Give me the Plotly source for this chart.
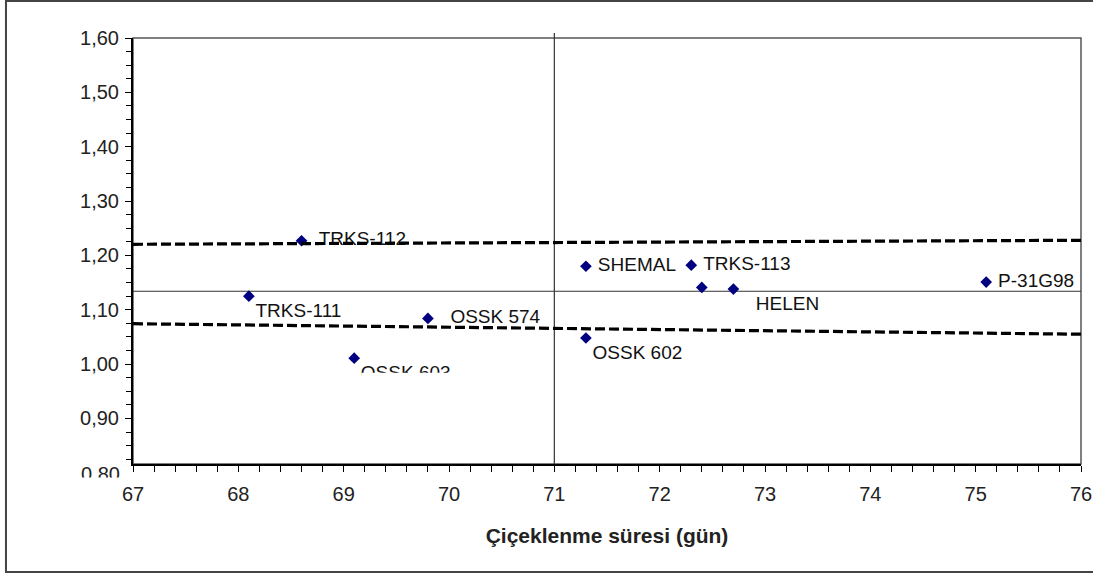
import plotly.graph_objects as go

# ---- data ----
cultivars = ["TRKS-112", "TRKS-111", "OSSK 574", "OSSK 603", "SHEMAL",
             "OSSK 602", "TRKS-113", "", "HELEN", "P-31G98"]
flower_days = [68.6, 68.1, 69.8, 69.1, 71.3, 71.3, 72.3, 72.4, 72.7, 75.1]
ratio_vals = [1.227, 1.125, 1.084, 1.011, 1.180, 1.048, 1.182, 1.141, 1.138, 1.151]
label_pos = ["middle right", "bottom right", "middle right", "bottom right", "middle right",
             "bottom right", "middle right", "middle right", "bottom right", "middle right"]
label_pad = [2, 0, 3, 0, 1, 0, 1, 0, 3, 1]   # non-breaking spaces before each label

trend_x = [67, 76]
upper_trend = [1.2204, 1.2278]
lower_trend = [1.0743, 1.0550]

mean_days = 71.0
mean_ratio = 1.134

x_range = [67, 76]
y_range = [0.8162, 1.60]
y_nominal = [0.80, 1.60]
x_title = "Çiçeklenme süresi (gün)"

FONT = "Liberation Sans, Arial, sans-serif"

label_text = [("\u00a0" * p + c) if c else "" for c, p in zip(cultivars, label_pad)]

fig = go.Figure()

fig.add_trace(go.Scatter(
    x=flower_days, y=ratio_vals, mode="markers+text",
    text=label_text, textposition=label_pos,
    marker=dict(symbol="diamond", size=9, color="#000080"),
    textfont=dict(family=FONT, size=19, color="#111111"),
    cliponaxis=False, showlegend=False, hoverinfo="skip"))

for yy in (upper_trend, lower_trend):
    fig.add_trace(go.Scatter(
        x=trend_x, y=yy, mode="lines",
        line=dict(color="black", width=3.2, dash="10px,4px"),
        showlegend=False, hoverinfo="skip"))

# phantom trace for the secondary (label-only) axis
fig.add_trace(go.Scatter(x=[None], y=[None], yaxis="y2", showlegend=False))

shapes = [
    dict(type="rect", xref="paper", yref="paper", x0=0, x1=1, y0=0, y1=1,
         line=dict(color="#555555", width=1.5), layer="below"),
    dict(type="line", xref="x", yref="paper", x0=mean_days, x1=mean_days, y0=0, y1=1.012,
         line=dict(color="#333333", width=1.2), layer="below"),
    dict(type="line", xref="paper", yref="y", x0=0, x1=1, y0=mean_ratio, y1=mean_ratio,
         line=dict(color="#333333", width=1.2), layer="below"),
    dict(type="rect", xref="paper", yref="paper", x0=-0.134, x1=1.03, y0=-0.2535, y1=1.0869,
         line=dict(color="#444444", width=2), layer="below"),
    dict(type="rect", xref="paper", yref="paper", x0=-0.075, x1=-0.012, y0=-0.054, y1=-0.0317,
         fillcolor="white", line=dict(width=0), layer="above"),
    dict(type="rect", xref="x", yref="y", x0=69.17, x1=70.25, y0=0.968, y1=0.9843,
         fillcolor="white", line=dict(width=0), layer="above"),
]

fig.update_layout(
    width=1093, height=577,
    margin=dict(l=133, r=12, t=38, b=113),
    paper_bgcolor="white", plot_bgcolor="white",
    separators=",.",
    font=dict(family=FONT, size=20, color="#222222"),
    shapes=shapes,
    xaxis=dict(
        range=x_range, tickmode="linear", tick0=67, dtick=1,
        showgrid=False, zeroline=False, automargin=False,
        showline=True, linecolor="black", linewidth=2,
        ticks="outside", ticklen=6, tickcolor="black", tickwidth=1.2,
        ticklabelstandoff=5,
        minor=dict(dtick=0.2, ticks="outside", ticklen=6, tickcolor="black", tickwidth=1.2, showgrid=False),
        tickfont=dict(family=FONT, size=20, color="#222222"),
        title=dict(text="<b>" + x_title + "</b>", font=dict(family=FONT, size=21, color="#222222"),
                   standoff=24),
    ),
    yaxis=dict(
        range=y_range, tickmode="linear", tick0=0.8, dtick=0.1, tickformat=".2f",
        showgrid=False, zeroline=False, automargin=False,
        showline=True, linecolor="black", linewidth=2,
        ticks="outside", ticklen=6, tickcolor="black", tickwidth=1.2,
        ticklabelstandoff=2,
        minor=dict(dtick=0.025, ticks="outside", ticklen=5, tickcolor="black", tickwidth=1.2, showgrid=False),
        tickfont=dict(family=FONT, size=20, color="#222222"),
    ),
    yaxis2=dict(
        overlaying="y", side="left", range=y_nominal, automargin=False,
        tickmode="array", tickvals=[y_nominal[0]], ticktext=["0,80"],
        ticks="outside", ticklen=6, tickcolor="rgba(0,0,0,0)",
        ticklabelshift=10, ticklabelstandoff=2,
        showgrid=False, zeroline=False, showline=False,
        tickfont=dict(family=FONT, size=20, color="#222222"),
    ),
)

fig.write_html("out.html")
